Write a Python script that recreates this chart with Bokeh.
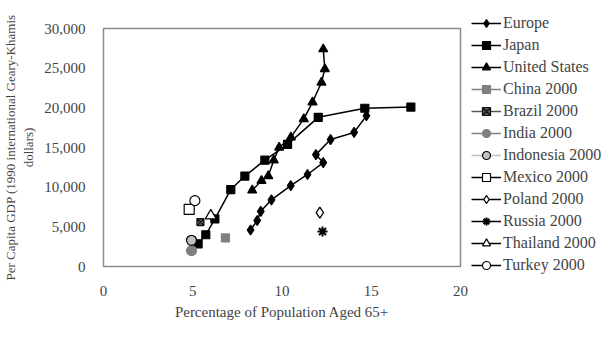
from bokeh.plotting import figure
from bokeh.models import Range1d, NumeralTickFormatter, FixedTicker, Legend, LegendItem
from bokeh.embed import file_html
from bokeh.resources import INLINE

FONT = "Liberation Serif"

europe_x = [8.24, 8.61, 8.81, 9.41, 10.49, 11.43, 12.31, 11.9, 12.72, 14.04, 14.73]
europe_y = [4600, 5800, 6950, 8400, 10200, 11600, 13100, 14100, 16000, 16900, 19000]

japan_x = [5.30, 5.73, 6.24, 7.13, 7.92, 9.04, 10.31, 12.03, 14.64, 17.22]
japan_y = [2860, 4000, 6000, 9700, 11400, 13400, 15400, 18800, 19950, 20100]

us_x = [8.33, 8.85, 9.23, 9.54, 9.84, 10.5, 11.22, 11.71, 12.21, 12.40, 12.31]
us_y = [9600, 10800, 11400, 13400, 15000, 16300, 18600, 20700, 23200, 24900, 27400]

single_names = ["China 2000", "Brazil 2000", "India 2000", "Indonesia 2000", "Mexico 2000",
                "Poland 2000", "Russia 2000", "Thailand 2000", "Turkey 2000"]
single_x = [6.83, 5.43, 4.93, 4.93, 4.80, 12.12, 12.27, 6.01, 5.12]
single_y = [3600, 5600, 2000, 3300, 7200, 6800, 4400, 6400, 8300]

x_ticks = [0, 5, 10, 15, 20]
y_ticks = [0, 5000, 10000, 15000, 20000, 25000, 30000]

p = figure(frame_width=357, frame_height=238, output_backend="svg", toolbar_location=None,
           x_range=Range1d(0, 20), y_range=Range1d(0, 30000),
           min_border_left=102, min_border_right=0, min_border_top=28, min_border_bottom=73)
p.grid.visible = False
p.outline_line_color = "#8c8c8c"
p.outline_line_width = 1.5

for ax in (p.xaxis[0], p.yaxis[0]):
    ax.axis_line_color = None
    ax.major_tick_line_color = None
    ax.minor_tick_line_color = None
    ax.major_label_text_font = FONT
    ax.major_label_text_font_size = "15px"
    ax.axis_label_text_font = FONT
    ax.axis_label_text_font_style = "normal"

p.xaxis.ticker = FixedTicker(ticks=x_ticks)
p.yaxis.ticker = FixedTicker(ticks=y_ticks)
p.yaxis.formatter = NumeralTickFormatter(format="0,0")
p.xaxis.major_label_standoff = 13
p.yaxis.major_label_standoff = 12
p.xaxis.axis_label = "Percentage of Population Aged 65+"
p.xaxis.axis_label_text_font_size = "15px"
p.xaxis.axis_label_standoff = 5
p.yaxis.axis_label = "Per Capita GDP (1990 international Geary-Khamis\ndollars)"
p.yaxis.axis_label_text_font_size = "13px"
p.yaxis.axis_label_standoff = 5

items = []

def series(name, xs, ys, marker, size, fill, line, lcolor, lw=1.5, mlw=1.2):
    l = p.line(xs, ys, line_color=lcolor, line_width=lw)
    s = p.scatter(xs, ys, marker=marker, size=size, fill_color=fill, line_color=line, line_width=mlw)
    items.append(LegendItem(label=name, renderers=[l, s]))

series("Europe", europe_x, europe_y, "diamond", 10, "black", "black", "black")
series("Japan", japan_x, japan_y, "square", 8, "black", "black", "black")
series("United States", us_x, us_y, "triangle", 9, "black", "black", "black")

styles = [
    ("square", 8, "#808080", "#808080", "#808080", 1.2),
    ("square_x", 7, "#555555", "#111111", "#555555", 1.2),
    ("circle", 10, "#808080", "#808080", "#808080", 1.2),
    ("circle", 10, "#c0c0c0", "black", "#c0c0c0", 1.2),
    ("square", 10, "white", "black", "black", 1.2),
    ("diamond", 11, "white", "black", "black", 1.3),
    ("asterisk", 10, "#aaaaaa", "black", "black", 2),
    ("triangle", 11, "white", "black", "black", 1.2),
    ("circle", 10, "white", "black", "black", 1.2),
]
for i, name in enumerate(single_names):
    m, sz, fill, line, lc, mlw = styles[i]
    series(name, [single_x[i]], [single_y[i]], m, sz, fill, line, lc, mlw=mlw)

legend = Legend(items=items, location=(11, -9))
legend.label_text_font = FONT
legend.label_text_font_size = "16px"
legend.glyph_width = 30
legend.glyph_height = 20
legend.label_height = 20
legend.spacing = 2
legend.padding = 0
legend.margin = 0
legend.label_standoff = 2
legend.border_line_color = None
legend.background_fill_alpha = 0
p.add_layout(legend, "right")

open("out.html", "w").write(file_html(p, INLINE))
